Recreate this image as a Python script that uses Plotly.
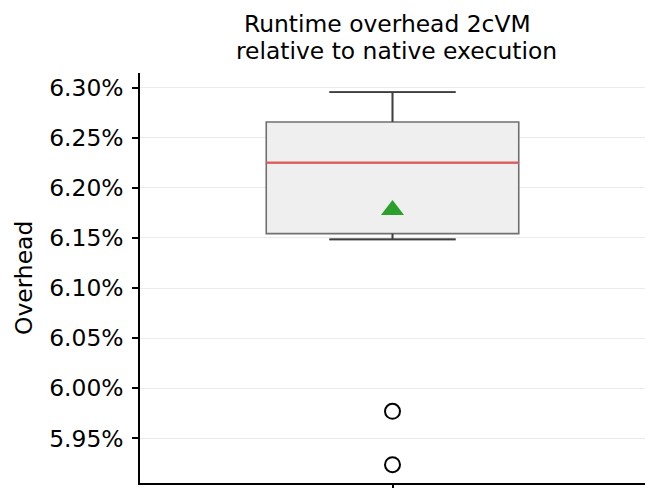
import plotly.graph_objects as go

# Data (percent)
q1 = 6.1543
median = 6.2251
q3 = 6.2657
lower_fence = 6.1486
upper_fence = 6.2956
mean_val = 6.1780
outliers = [5.977, 5.9238]
tick_vals = [5.95, 6.00, 6.05, 6.10, 6.15, 6.20, 6.25, 6.30]
tick_text = [f"{v:.2f}%" for v in tick_vals]

box_width = 0.5
cap_width = box_width * 0.5
xpos = 0

FONT = "DejaVu Sans"
FS = 23.4

fig = go.Figure()
fig.add_trace(go.Box(
    x=[xpos], q1=[q1], median=[median], q3=[q3],
    lowerfence=[lower_fence], upperfence=[upper_fence],
    width=box_width, whiskerwidth=0.5,
    fillcolor="#efefef", line=dict(color="#707070", width=1.6),
    boxpoints=False, hoverinfo="skip", showlegend=False,
))
# whiskers (darker)
wcol = "#3f3f3f"
fig.add_trace(go.Scatter(
    x=[xpos, xpos, None, xpos, xpos, None,
       xpos - cap_width / 2, xpos + cap_width / 2, None,
       xpos - cap_width / 2, xpos + cap_width / 2],
    y=[q3, upper_fence, None, q1, lower_fence, None,
       upper_fence, upper_fence, None, lower_fence, lower_fence],
    mode="lines", line=dict(color=wcol, width=1.8),
    hoverinfo="skip", showlegend=False,
))
# median
fig.add_trace(go.Scatter(
    x=[xpos - box_width / 2, xpos + box_width / 2], y=[median, median],
    mode="lines", line=dict(color="#e05c5c", width=2.2),
    hoverinfo="skip", showlegend=False,
))
# mean
fig.add_trace(go.Scatter(
    x=[xpos], y=[mean_val], mode="markers",
    marker=dict(symbol="triangle-up", size=20, color="#2ca02c",
                line=dict(width=0)),
    hoverinfo="skip", showlegend=False,
))
# outliers
fig.add_trace(go.Scatter(
    x=[xpos] * len(outliers), y=outliers, mode="markers",
    marker=dict(symbol="circle-open", size=15, color="black",
                line=dict(width=2, color="black")),
    hoverinfo="skip", showlegend=False,
))

fig.update_layout(
    width=652, height=488,
    margin=dict(l=140, r=7, t=73, b=5, autoexpand=False),
    plot_bgcolor="white", paper_bgcolor="white",
    font=dict(family=FONT, size=FS, color="black"),
    hovermode=False,
    annotations=[
        dict(text="Runtime overhead 2cVM", xref="paper", yref="paper",
             x=0.491, y=1.1202, xanchor="center", yanchor="middle",
             showarrow=False, font=dict(family=FONT, size=FS, color="black")),
        dict(text="relative to native execution", xref="paper", yref="paper",
             x=0.5083, y=1.0537, xanchor="center", yanchor="middle",
             showarrow=False, font=dict(family=FONT, size=FS, color="black")),
        dict(text="Overhead", xref="paper", yref="paper",
             x=-0.2297, y=0.5, xanchor="center", yanchor="middle",
             textangle=-90, showarrow=False,
             font=dict(family=FONT, size=FS, color="black")),
    ],
)
fig.update_xaxes(
    range=[-0.5, 0.5], showline=True, linecolor="black", linewidth=1.6,
    ticks="outside", ticklen=6, tickwidth=1.6, tickcolor="black",
    tickvals=[xpos], showticklabels=False, showgrid=False, zeroline=False,
    fixedrange=True, automargin=False,
)
fig.update_yaxes(
    range=[5.9055, 6.3146], showline=True, linecolor="black", linewidth=1.6,
    ticks="outside", ticklen=6, tickwidth=1.6, tickcolor="black",
    tickvals=tick_vals, ticktext=tick_text, showgrid=True,
    gridcolor="#ebebeb", gridwidth=1, zeroline=False,
    tickfont=dict(family=FONT, size=FS, color="black"),
    ticklabelstandoff=4,
    fixedrange=True, automargin=False,
)

fig.write_html("out.html", config={"displayModeBar": False},
               post_script="document.body.style.margin='0';")
